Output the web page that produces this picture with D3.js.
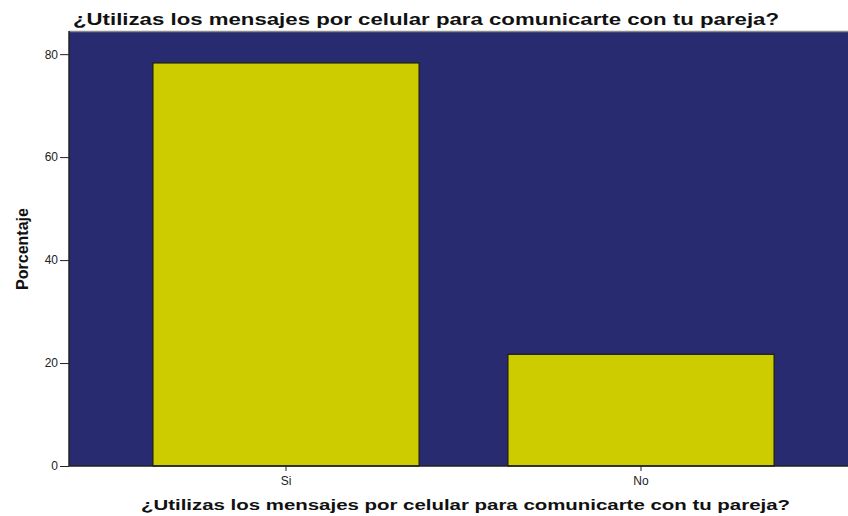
<!DOCTYPE html>
<html><head><meta charset="utf-8">
<script src="https://cdn.jsdelivr.net/npm/d3@7"></script>
<style>body{margin:0;background:#fff}svg{display:block}</style>
</head><body>
<script>
const categories = ["Si", "No"];
const values = [78.3, 21.7];
const yTicks = [0, 20, 40, 60, 80];
const titleText = "¿Utilizas los mensajes por celular para comunicarte con tu pareja?";
const yTitle = "Porcentaje";

const W = 848, H = 516;
const plot = {left: 69, right: 848, top: 31, bottom: 466};
const svg = d3.select("body").append("svg").attr("width", W).attr("height", H);

const y = d3.scaleLinear().domain([0, 84.5]).range([plot.bottom, plot.top]);
const x = d3.scaleBand().domain(categories).range([108.5, 818.5]).paddingInner(0.25).paddingOuter(0.125);

svg.append("rect").attr("x", plot.left).attr("y", plot.top)
  .attr("width", plot.right - plot.left).attr("height", plot.bottom - plot.top)
  .attr("fill", "#292b70");
svg.append("line").attr("x1", plot.left).attr("x2", plot.right).attr("y1", plot.top + 0.5).attr("y2", plot.top + 0.5)
  .attr("stroke", "#8a8a8a").attr("stroke-width", 1.5);

svg.selectAll("rect.bar").data(values).join("rect").attr("class", "bar")
  .attr("x", (d, i) => x(categories[i])).attr("width", x.bandwidth())
  .attr("y", d => y(d)).attr("height", d => y(0) - y(d))
  .attr("fill", "#cccc00").attr("stroke", "#1e1e1e").attr("stroke-width", 1.3);

const ya = svg.append("g").attr("transform", `translate(${plot.left},0)`)
  .call(d3.axisLeft(y).tickValues(yTicks).tickSize(9).tickPadding(2));
ya.select(".domain").remove();
ya.append("line").attr("x1", 0).attr("x2", 0).attr("y1", plot.top).attr("y2", plot.bottom).attr("stroke", "#222").attr("stroke-width", 1.5);
ya.selectAll(".tick line").attr("stroke", "#222");
ya.selectAll("text").attr("font-family", "Liberation Sans, Arial, sans-serif").attr("font-size", 12).attr("fill", "#222");

const xa = svg.append("g").attr("transform", `translate(0,${plot.bottom})`)
  .call(d3.axisBottom(x).tickSize(5).tickPadding(5));
xa.select(".domain").remove();
xa.append("line").attr("x1", plot.left).attr("x2", plot.right).attr("y1", 0).attr("y2", 0).attr("stroke", "#222").attr("stroke-width", 1.5);
xa.selectAll(".tick line").attr("stroke", "#222");
xa.selectAll("text").attr("font-family", "Liberation Sans, Arial, sans-serif").attr("font-size", 12).attr("fill", "#222");

svg.append("text").attr("x", 73).attr("y", 25).text(titleText)
  .attr("font-family", "Liberation Sans, Arial, sans-serif").attr("font-weight", "bold").attr("font-size", 17).attr("fill", "#111")
  .attr("textLength", 706).attr("lengthAdjust", "spacingAndGlyphs");

svg.append("text").attr("x", 141).attr("y", 510).text(titleText)
  .attr("font-family", "Liberation Sans, Arial, sans-serif").attr("font-weight", "bold").attr("font-size", 14).attr("fill", "#111")
  .attr("textLength", 649).attr("lengthAdjust", "spacingAndGlyphs");

svg.append("text").attr("transform", "translate(28,249) rotate(-90)").attr("text-anchor", "middle").text(yTitle)
  .attr("font-family", "Liberation Sans Narrow, Arial Narrow, sans-serif").attr("font-weight", "bold").attr("font-size", 17).attr("fill", "#111")
  .attr("textLength", 82).attr("lengthAdjust", "spacingAndGlyphs");
</script>
</body></html>
